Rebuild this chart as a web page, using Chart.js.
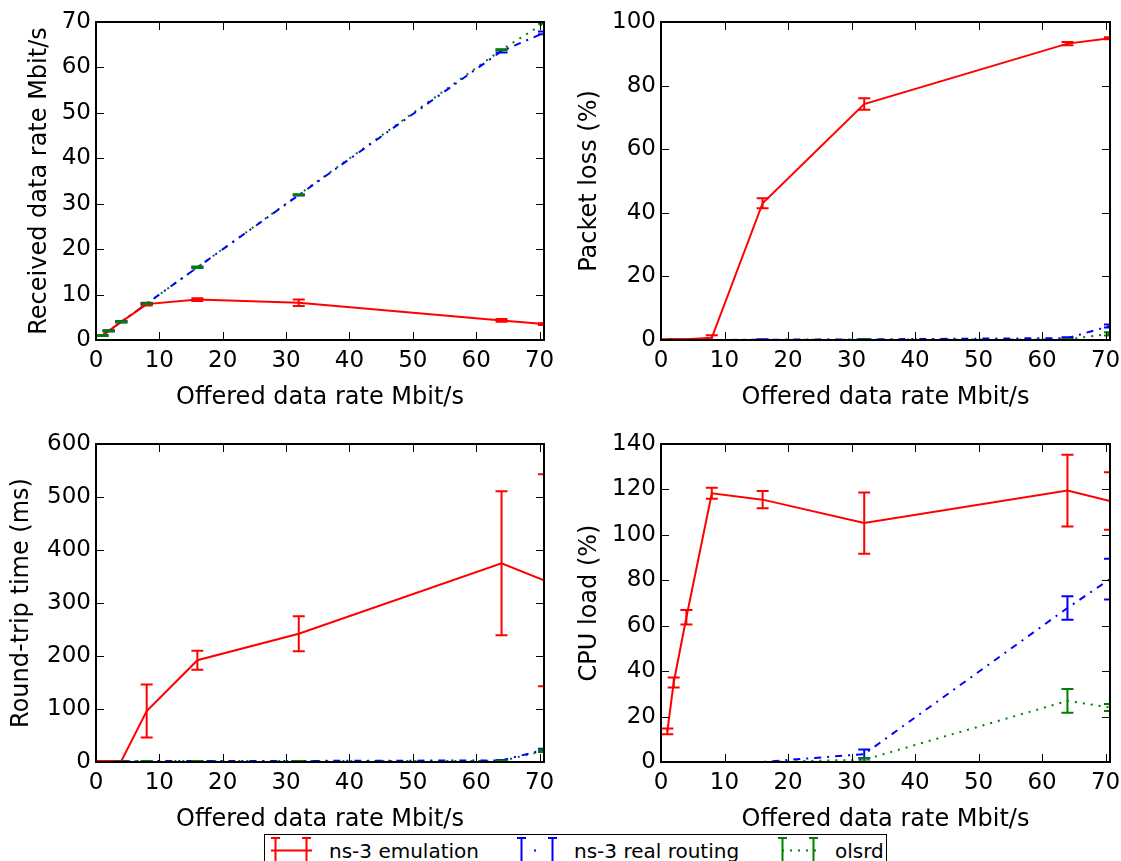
<!DOCTYPE html>
<html><head><meta charset="utf-8">
<script src="https://cdn.jsdelivr.net/npm/chart.js@4.4.1/dist/chart.umd.min.js"></script>
<style>
html,body{margin:0;padding:0;background:#fff;width:1121px;height:861px;overflow:hidden;position:relative;font-family:"DejaVu Sans",sans-serif;}
canvas{position:absolute;}
#legend{position:absolute;left:264px;top:834px;width:623px;height:40px;border:1px solid #000;box-sizing:border-box;background:#fff;}
.lt{position:absolute;font-size:20px;line-height:24px;color:#000;white-space:nowrap;font-family:"DejaVu Sans",sans-serif;}
svg.h{position:absolute;overflow:visible;}
</style></head><body>
<canvas id="c1" width="560" height="420" style="left:0;top:0"></canvas>
<canvas id="c2" width="561" height="420" style="left:560px;top:0"></canvas>
<canvas id="c3" width="560" height="420" style="left:0;top:420px"></canvas>
<canvas id="c4" width="561" height="420" style="left:560px;top:420px"></canvas>
<div id="legend"></div>
<svg class="h" style="left:271px;top:836px" width="42" height="30"><line x1="0" y1="14.5" x2="41" y2="14.5" stroke="#ff0000" stroke-width="2"/><path d="M4.5 2V27M35.5 2V27M0 2H9M0 27H9M31 2H40M31 27H40" stroke="#ff0000" stroke-width="2" fill="none"/></svg>
<span class="lt" style="left:329px;top:838.5px">ns-3 emulation</span>
<svg class="h" style="left:517px;top:836px" width="42" height="30"><line x1="8" y1="14.5" x2="32" y2="14.5" stroke="#0000ff" stroke-width="2" stroke-dasharray="0,9,2,20"/><path d="M4.5 2V27M35.5 2V27M0 2H9M0 27H9M31 2H40M31 27H40" stroke="#0000ff" stroke-width="2" fill="none"/></svg>
<span class="lt" style="left:574px;top:838.5px">ns-3 real routing</span>
<svg class="h" style="left:778px;top:836px" width="42" height="30"><line x1="4" y1="14.5" x2="40" y2="14.5" stroke="#008000" stroke-width="2" stroke-dasharray="2,6"/><path d="M4.5 2V27M35.5 2V27M0 2H9M0 27H9M31 2H40M31 27H40" stroke="#008000" stroke-width="2" fill="none"/></svg>
<span class="lt" style="left:835px;top:838.5px">olsrd</span>
<script>
// ---- data ----
const offered = [1, 2, 4, 8, 16, 32, 64, 70.7];
const seriesNames = ['ns-3 emulation', 'ns-3 real routing', 'olsrd'];

const rxEmu     = [1.0, 2.0, 4.0, 7.9, 8.9, 8.2, 4.3, 3.5];
const rxEmuErr  = [0.1, 0.1, 0.1, 0.3, 0.3, 0.7, 0.3, 0.2];
const rxReal    = [1.0, 2.0, 4.0, 8.0, 16.0, 31.9, 63.6, 67.6];
const rxRealErr = [0.1, 0.1, 0.1, 0.1, 0.1, 0.1, 0.3, 0.3];
const rxOlsr    = [1.0, 2.0, 4.0, 8.0, 16.0, 32.0, 63.9, 69.7];
const rxOlsrErr = [0.1, 0.1, 0.1, 0.1, 0.1, 0.1, 0.1, 0.1];

const lossEmu     = [0.2, 0.2, 0.2, 0.7, 43.0, 74.2, 93.2, 94.9];
const lossEmuErr  = [0, 0, 0, 0.8, 1.6, 1.8, 0.5, 0.3];
const lossReal    = [0, 0, 0, 0, 0.1, 0.2, 0.6, 4.4];
const lossRealErr = [0, 0, 0, 0, 0.1, 0.1, 0.3, 0.5];
const lossOlsr    = [0, 0, 0, 0, 0, 0.1, 0.2, 1.9];
const lossOlsrErr = [0, 0, 0, 0, 0, 0.1, 0.1, 0.5];

const rttEmu     = [2, 2, 2, 96, 192, 242, 375, 343];
const rttEmuErr  = [0, 0, 0, 50, 18, 33, 136, 200];
const rttReal    = [0, 0, 1, 2, 2, 2, 3, 23];
const rttRealErr = [0, 0, 0, 0, 0, 0, 1, 2];
const rttOlsr    = [0, 0, 1, 2, 2, 2, 2, 21];
const rttOlsrErr = [0, 0, 0, 0, 0, 0, 1, 2];

const cpuEmu     = [13.5, 35.0, 63.7, 118.3, 115.5, 105.2, 119.5, 114.9];
const cpuEmuErr  = [1.3, 2.2, 3.2, 2.4, 3.8, 13.5, 15.8, 12.7];
const cpuReal    = [0, 0, 0, 0, 0, 3.5, 67.8, 80.5];
const cpuRealErr = [0, 0, 0, 0, 0, 2.0, 5.2, 9.0];
const cpuOlsr    = [0, 0, 0, 0, 0, 1.0, 26.9, 24.0];
const cpuOlsrErr = [0, 0, 0, 0, 0, 0.8, 5.2, 1.5];

const xTitle = 'Offered data rate Mbit/s';
const xMax = 70.7;
const xStep = 10;
// ---- styling ----
const colors = ['#ff0000', '#0000ff', '#008000'];
const dashes = [[], [7, 6, 2, 6], [2, 6]];
const tickFont = {family: 'DejaVu Sans', size: 23};
const titleFont = {family: 'DejaVu Sans', size: 24};

const errorBarPlugin = {
  id: 'errbars',
  afterDatasetsDraw(chart) {
    const {ctx, chartArea: a, scales: {x, y}} = chart;
    ctx.save();
    ctx.beginPath(); ctx.rect(a.left, a.top, a.right - a.left, a.bottom - a.top); ctx.clip();
    chart.data.datasets.forEach(ds => {
      if (!ds.errors) return;
      ctx.strokeStyle = ds.borderColor; ctx.lineWidth = 2; ctx.setLineDash([]);
      ds.data.forEach((p, i) => {
        const e = ds.errors[i];
        const px = x.getPixelForValue(p.x);
        const y1 = y.getPixelForValue(p.y + e), y0 = y.getPixelForValue(p.y - e);
        ctx.beginPath();
        ctx.moveTo(px, y0); ctx.lineTo(px, y1);
        ctx.moveTo(px - 6, y0); ctx.lineTo(px + 6, y0);
        ctx.moveTo(px - 6, y1); ctx.lineTo(px + 6, y1);
        ctx.stroke();
      });
    });
    ctx.restore();
  }
};

const framePlugin = {
  id: 'frame',
  afterDraw(chart) {
    const {ctx, chartArea: a, scales: {x, y}} = chart;
    ctx.save();
    ctx.strokeStyle = '#000'; ctx.lineWidth = 1; ctx.setLineDash([]);
    ctx.beginPath();
    x.ticks.forEach(t => {
      const px = Math.round(x.getPixelForValue(t.value)) + 0.5;
      ctx.moveTo(px, a.bottom); ctx.lineTo(px, a.bottom - 8);
      ctx.moveTo(px, a.top); ctx.lineTo(px, a.top + 8);
    });
    y.ticks.forEach(t => {
      const py = Math.round(y.getPixelForValue(t.value)) + 0.5;
      ctx.moveTo(a.left, py); ctx.lineTo(a.left + 8, py);
      ctx.moveTo(a.right, py); ctx.lineTo(a.right - 8, py);
    });
    ctx.stroke();
    ctx.lineWidth = 2;
    ctx.strokeRect(a.left, a.top, a.right - a.left, a.bottom - a.top);
    ctx.restore();
  }
};

function makeChart(id, spec) {
  const datasets = spec.series.map((s, k) => ({
    label: seriesNames[k],
    data: offered.map((v, i) => ({x: v, y: s[0][i]})),
    errors: s[1],
    borderColor: colors[k], backgroundColor: colors[k],
    borderWidth: 2, borderDash: dashes[k], borderCapStyle: 'butt',
    pointRadius: 0, tension: 0, fill: false, clip: 0
  }));
  return new Chart(document.getElementById(id), {
    type: 'line',
    data: {datasets},
    options: {
      responsive: false, animation: false, devicePixelRatio: 1,
      layout: {padding: {top: spec.padTop, right: spec.padRight, left: 0, bottom: 0}},
      plugins: {legend: {display: false}, tooltip: {enabled: false}},
      scales: {
        x: {
          type: 'linear', min: 0, max: xMax,
          ticks: {stepSize: xStep, includeBounds: false, font: tickFont, color: '#000', padding: 7, maxRotation: 0, autoSkip: false},
          grid: {display: false, drawTicks: false, tickLength: 0}, border: {display: false},
          title: {display: true, text: xTitle, font: titleFont, color: '#000', padding: {top: 0, bottom: spec.xTitlePad}},
          afterFit(s) { s.height = spec.xHeight; s.paddingLeft = 0; s.paddingRight = 0; }
        },
        y: {
          type: 'linear', min: 0, max: spec.ymax,
          ticks: {stepSize: spec.ystep, font: tickFont, color: '#000', padding: 5},
          grid: {display: false, drawTicks: false, tickLength: 0}, border: {display: false},
          title: {display: true, text: spec.ytitle, font: titleFont, color: '#000', padding: {top: spec.yTitlePad, bottom: 0}},
          afterFit(s) { s.width = spec.yWidth; s.paddingTop = 0; s.paddingBottom = 0; }
        }
      }
    },
    plugins: [errorBarPlugin, framePlugin]
  });
}

makeChart('c1', {padTop: 22, padRight: 16, yWidth: 96, xHeight: 80, ymax: 70, ystep: 10,
  ytitle: 'Received data rate Mbit/s', yTitlePad: 25, xTitlePad: 8,
  series: [[rxEmu, rxEmuErr], [rxReal, rxRealErr], [rxOlsr, rxOlsrErr]]});
makeChart('c2', {padTop: 22, padRight: 11, yWidth: 101, xHeight: 80, ymax: 100, ystep: 20,
  ytitle: 'Packet loss (%)', yTitlePad: 15.4, xTitlePad: 8,
  series: [[lossEmu, lossEmuErr], [lossReal, lossRealErr], [lossOlsr, lossOlsrErr]]});
makeChart('c3', {padTop: 24, padRight: 16, yWidth: 96, xHeight: 78, ymax: 600, ystep: 100,
  ytitle: 'Round-trip time (ms)', yTitlePad: 7.3, xTitlePad: 5.8,
  series: [[rttEmu, rttEmuErr], [rttReal, rttRealErr], [rttOlsr, rttOlsrErr]]});
makeChart('c4', {padTop: 24, padRight: 11, yWidth: 101, xHeight: 78, ymax: 140, ystep: 20,
  ytitle: 'CPU load (%)', yTitlePad: 15.4, xTitlePad: 5.8,
  series: [[cpuEmu, cpuEmuErr], [cpuReal, cpuRealErr], [cpuOlsr, cpuOlsrErr]]});
</script>
</body></html>
